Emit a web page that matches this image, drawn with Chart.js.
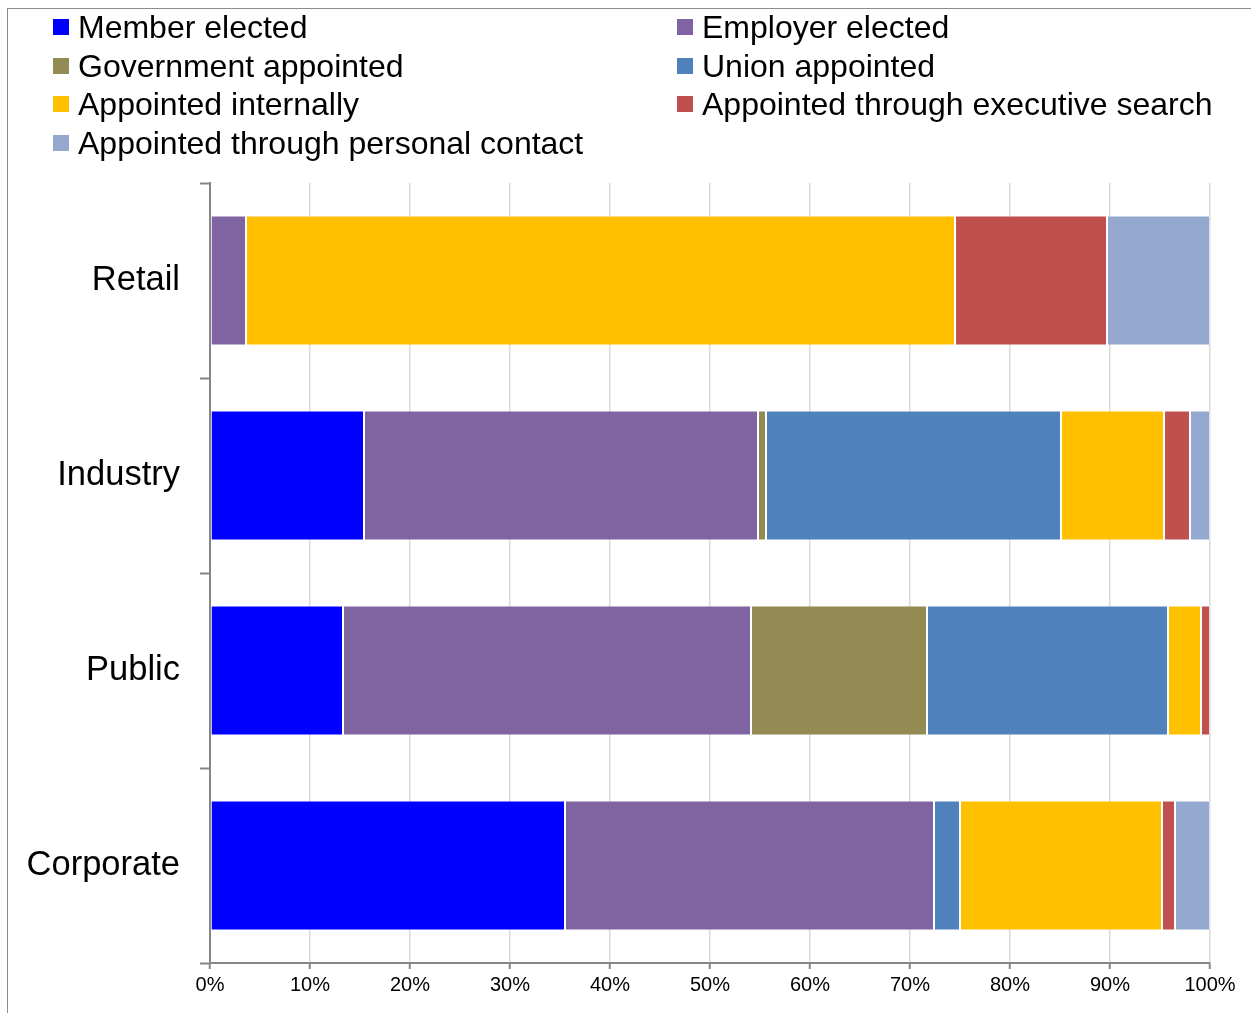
<!DOCTYPE html>
<html>
<head>
<meta charset="utf-8">
<script src="https://cdn.jsdelivr.net/npm/chart.js@4.4.1/dist/chart.umd.min.js"></script>
<style>
  html, body { margin: 0; padding: 0; background: #fff; }
  #wrap { position: relative; width: 1251px; height: 1013px; overflow: hidden; font-family: Arial, "Liberation Sans", sans-serif; }
  #frame { position: absolute; left: 7px; top: 8px; width: 1300px; height: 1100px; border-left: 1px solid #8c8c8c; border-top: 1px solid #8c8c8c; }
  #legend { position: absolute; left: 0; top: 0; width: 1251px; height: 170px; }
  .item { position: absolute; height: 38px; line-height: 38px; font-size: 32px; color: #000; white-space: nowrap; }
  .item span.box { position: absolute; left: 0; top: 11px; width: 16px; height: 16px; }
  .item span.txt { position: absolute; left: 25px; top: 0; }
  canvas { position: absolute; left: 0; top: 0; }
</style>
</head>
<body>
<div id="wrap">
  <div id="frame"></div>
  <canvas id="boardChart" width="1251" height="1013"></canvas>
  <div id="legend"></div>
</div>
<script>
var sectors = ["Retail", "Industry", "Public", "Corporate"];
var seriesNames = [
    "Member elected", "Employer elected",
    "Government appointed", "Union appointed",
    "Appointed internally", "Appointed through executive search",
    "Appointed through personal contact"
];
var colours = ['#0000ff', '#8064a2', '#948a54', '#4f81bd', '#ffc000', '#c0504d', '#95a9d0'];

// share of board members (%), per sector
var memberElected     = [0,    15.4, 13.3, 35.5];
var employerElected   = [3.6,  39.4, 40.8, 36.9];
var governmentApp     = [0,    0.8,  17.6, 0];
var unionApp          = [0,    29.5, 24.1, 2.6];
var appInternally     = [70.9, 10.3, 3.3,  20.2];
var appExecSearch     = [15.2, 2.6,  0.9,  1.3];
var appPersonal       = [10.3, 2.0,  0,    3.5];
var xTicks = [0, 10, 20, 30, 40, 50, 60, 70, 80, 90, 100];

var seriesValues = [memberElected, employerElected, governmentApp, unionApp,
                    appInternally, appExecSearch, appPersonal];

// legend in two columns, like the original
var legend = document.getElementById('legend');
seriesNames.forEach(function (name, i) {
    var col = i % 2, row = Math.floor(i / 2);
    var div = document.createElement('div');
    div.className = 'item';
    div.style.left = (col === 0 ? 53 : 677) + 'px';
    div.style.top = (8 + row * 38.5) + 'px';
    div.innerHTML = '<span class="box" style="background:' + colours[i] + '"></span><span class="txt"></span>';
    div.querySelector('.txt').textContent = name;
    legend.appendChild(div);
});

var ctx = document.getElementById('boardChart').getContext('2d');
var chart = new Chart(ctx, {
    type: 'bar',
    data: {
        labels: sectors,
        datasets: seriesNames.map(function (name, i) {
            return {
                label: name,
                data: seriesValues[i],
                backgroundColor: colours[i],
                borderColor: 'rgba(255,255,255,0.2)',
                borderWidth: 1,
                borderSkipped: false,
                barPercentage: 1,
                categoryPercentage: 0.667
            };
        })
    },
    options: {
        indexAxis: 'y',
        responsive: false,
        animation: false,
        layout: { padding: { top: 183, right: 41, left: 0, bottom: 0 } },
        plugins: {
            legend: { display: false },
            tooltip: { enabled: false }
        },
        scales: {
            x: {
                stacked: true,
                min: 0,
                max: 100,
                afterBuildTicks: function (scale) {
                    scale.ticks = xTicks.map(function (v) { return { value: v }; });
                },
                afterFit: function (scale) { scale.height = 50; },
                grid: {
                    color: '#d9d9d9',
                    lineWidth: 1.5,
                    tickColor: '#868686',
                    tickLength: 6,
                    tickWidth: 2
                },
                border: { color: '#868686', width: 2 },
                ticks: {
                    color: '#000',
                    padding: 4,
                    font: { family: 'Arial, "Liberation Sans"', size: 20 },
                    callback: function (v) { return v + '%'; }
                }
            },
            y: {
                stacked: true,
                afterFit: function (scale) { scale.width = 210; },
                grid: {
                    drawOnChartArea: false,
                    drawTicks: true,
                    tickLength: 10,
                    tickColor: '#868686',
                    tickWidth: 2
                },
                border: { color: '#868686', width: 2 },
                ticks: {
                    color: '#000',
                    padding: 20,
                    font: { family: 'Arial, "Liberation Sans"', size: 34.5 }
                }
            }
        }
    }
});
</script>
</body>
</html>
